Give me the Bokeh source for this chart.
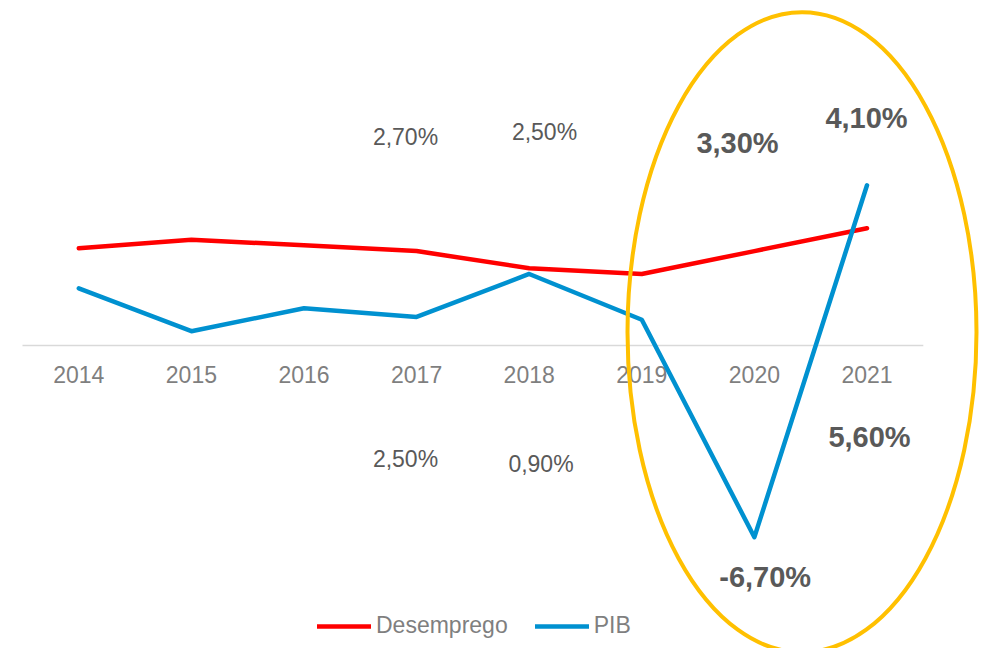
from bokeh.plotting import figure
from bokeh.models import Range1d, ColumnDataSource, Legend, LegendItem
from bokeh.core.properties import value
from bokeh.embed import file_html
from bokeh.resources import INLINE

# ---------------- data ----------------
years = ["2014", "2015", "2016", "2017", "2018", "2019", "2020", "2021"]
desemprego = [3.4, 3.7, 3.5, 3.3, 2.7, 2.5, 3.3, 4.1]
pib = [2.0, 0.5, 1.3, 1.0, 2.5, 0.9, -6.7, 5.6]
series_names = ["Desemprego", "PIB"]

# which points carry a value label (years), per series
desemprego_label_years = ["2018", "2019", "2020", "2021"]
pib_label_years = ["2018", "2019", "2020", "2021"]

# ---------------- layout / style ----------------
W, H = 981, 648
PX_X = 112.6          # pixels per category
PX_Y = 28.61          # pixels per percentage point
LEFT = 22             # left of category band (px)
ZERO = 345            # y pixel (from top) of value 0

RED = "#FF0000"
BLUE = "#0091D0"
GOLD = "#FFC000"
AXIS_TXT = "#7F7F7F"
LBL_TXT = "#595959"
FONT = "Liberation Sans"

# label pixel offsets relative to the data point: (dx, dy, bold)
red_label_style = [(-123.7, -131.3, False), (-97.3, -141.9, False),
                   (-16.9, -107.9, True), (-0.5, -110.0, True)]
blue_label_style = [(-123.7, 185.2, False), (-100.8, 144.2, False),
                    (10.8, 40.3, True), (2.5, 251.7, True)]

xs = [i + 0.5 for i in range(len(years))]

p = figure(width=W, height=H, output_backend="svg", toolbar_location=None,
           x_range=Range1d(-LEFT / PX_X, (W - LEFT) / PX_X),
           y_range=Range1d(-(H - ZERO) / PX_Y, ZERO / PX_Y),
           min_border=0, min_border_left=0, min_border_right=0,
           min_border_top=0, min_border_bottom=0)
p.axis.visible = False
p.grid.visible = False
p.outline_line_color = None
p.background_fill_color = "white"
p.border_fill_color = "white"

# zero line (category axis line)
p.line(x=[0, len(years)], y=[0, 0], line_color="#D9D9D9", line_width=1.5)

# category labels
p.text(x=xs, y=[0] * len(xs), text=years, text_align="center",
       text_baseline="alphabetic", y_offset=28.5,
       text_font=value(FONT), text_font_size="23px", text_color=AXIS_TXT)

src_d = ColumnDataSource(dict(x=xs, y=desemprego))
src_p = ColumnDataSource(dict(x=xs, y=pib))
r_d = p.line("x", "y", source=src_d, line_color=RED, line_width=4.5,
             line_join="round", line_cap="round")
r_p = p.line("x", "y", source=src_p, line_color=BLUE, line_width=4.5,
             line_join="round", line_cap="round")

# highlight ellipse
p.ellipse(x=[(801.5 - LEFT) / PX_X], y=[(ZERO - 331.7) / PX_Y],
          width=349, height=640, width_units="screen", height_units="screen",
          fill_color=None, line_color=GOLD, line_width=4)


def fmt(v):
    return ("%.2f" % v).replace(".", ",") + "%"


def add_labels(vals, lyears, style):
    for yr, (dx, dy, bold) in zip(lyears, style):
        i = years.index(yr)
        p.text(x=[xs[i]], y=[vals[i]], text=[fmt(vals[i])],
               x_offset=dx, y_offset=dy, text_align="center",
               text_baseline="alphabetic", text_font=value(FONT),
               text_font_size="29px" if bold else "23px",
               text_font_style="bold" if bold else "normal",
               text_color=LBL_TXT)


add_labels(desemprego, desemprego_label_years, red_label_style)
add_labels(pib, pib_label_years, blue_label_style)

legend = Legend(items=[LegendItem(label=series_names[0], renderers=[r_d]),
                       LegendItem(label=series_names[1], renderers=[r_p])],
                orientation="horizontal", location=(317, H - 639),
                label_text_font=FONT, label_text_font_size="23px",
                label_text_color=AXIS_TXT, glyph_width=54, glyph_height=24,
                label_height=24, label_standoff=5, spacing=27, padding=0,
                margin=0, border_line_color=None, background_fill_alpha=0)
p.add_layout(legend, "center")

open("out.html", "w").write(file_html(p, INLINE))
